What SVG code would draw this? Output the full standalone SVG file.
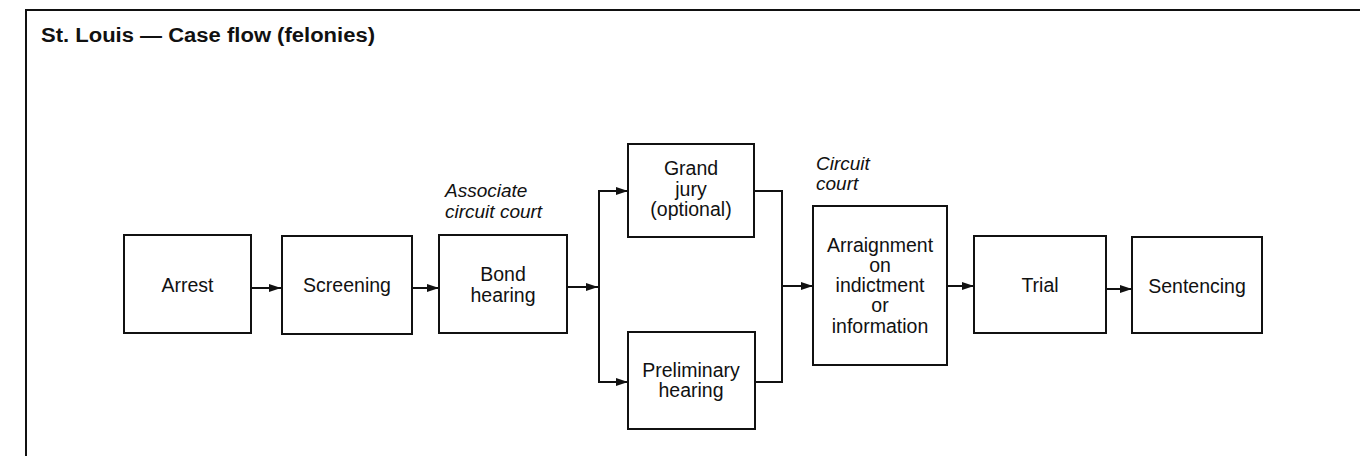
<svg xmlns="http://www.w3.org/2000/svg" width="1360" height="456" viewBox="0 0 1360 456">
<defs>
<marker id="arr" markerUnits="userSpaceOnUse" markerWidth="13" markerHeight="9" refX="12" refY="4.5" orient="auto">
<path d="M0,0.5 L12,4.5 L0,8.5 z" fill="#111"/>
</marker>
<style>
.box{fill:#fff;stroke:#111;stroke-width:2}
.lbl{font-family:"Liberation Sans",Arial,sans-serif;font-size:19.5px;fill:#111;text-anchor:middle}
.it{font-family:"Liberation Sans",Arial,sans-serif;font-size:19px;font-style:italic;fill:#111}
.ln{fill:none;stroke:#111;stroke-width:2}
.title{font-family:"Liberation Sans",Arial,sans-serif;font-size:20px;font-weight:bold;fill:#111}
</style>
</defs>
<rect width="1360" height="456" fill="#fff"/>
<path d="M26,456 V10 H1360" class="ln" stroke-width="2.5"/>
<text class="title" x="41" y="42" textLength="334" lengthAdjust="spacingAndGlyphs">St. Louis — Case flow (felonies)</text>
<text class="it" x="445" y="197">Associate</text>
<text class="it" x="445" y="218">circuit court</text>
<text class="it" x="816" y="170">Circuit</text>
<text class="it" x="816" y="190">court</text>
<g id="connectors">
<line class="ln" x1="251" y1="288" x2="281" y2="288" marker-end="url(#arr)"/>
<line class="ln" x1="412" y1="288" x2="439" y2="288" marker-end="url(#arr)"/>
<line class="ln" x1="567" y1="287" x2="598" y2="287" marker-end="url(#arr)"/>
<polyline class="ln" points="628,191 599,191 599,382 628,382"/>
<line class="ln" x1="599" y1="191" x2="628" y2="191" marker-end="url(#arr)"/>
<line class="ln" x1="599" y1="382" x2="628" y2="382" marker-end="url(#arr)"/>
<polyline class="ln" points="754,191 782,191 782,382 755,382"/>
<line class="ln" x1="782" y1="286" x2="813" y2="286" marker-end="url(#arr)"/>
<line class="ln" x1="947" y1="286" x2="974" y2="286" marker-end="url(#arr)"/>
<line class="ln" x1="1106" y1="289" x2="1132" y2="289" marker-end="url(#arr)"/>
</g>
<g id="arrest">
<rect class="box" x="124" y="235" width="127" height="98"/>
<text class="lbl" x="187.5" y="292">Arrest</text>
</g>
<g id="screening">
<rect class="box" x="282" y="236" width="130" height="98"/>
<text class="lbl" x="347" y="292">Screening</text>
</g>
<g id="bond">
<rect class="box" x="439" y="235" width="128" height="98"/>
<text class="lbl" x="503" y="281">Bond</text>
<text class="lbl" x="503" y="302">hearing</text>
</g>
<g id="grandjury">
<rect class="box" x="628" y="144" width="126" height="93"/>
<text class="lbl" x="691" y="175">Grand</text>
<text class="lbl" x="691" y="195.5">jury</text>
<text class="lbl" x="691" y="216">(optional)</text>
</g>
<g id="preliminary">
<rect class="box" x="628" y="332" width="127" height="97"/>
<text class="lbl" x="691" y="377">Preliminary</text>
<text class="lbl" x="691" y="397">hearing</text>
</g>
<g id="arraignment">
<rect class="box" x="813" y="206" width="134" height="159"/>
<text class="lbl" x="880" y="252">Arraignment</text>
<text class="lbl" x="880" y="272">on</text>
<text class="lbl" x="880" y="292">indictment</text>
<text class="lbl" x="880" y="312">or</text>
<text class="lbl" x="880" y="333">information</text>
</g>
<g id="trial">
<rect class="box" x="974" y="236" width="132" height="97"/>
<text class="lbl" x="1040" y="292">Trial</text>
</g>
<g id="sentencing">
<rect class="box" x="1132" y="237" width="130" height="96"/>
<text class="lbl" x="1197" y="293">Sentencing</text>
</g>
</svg>
